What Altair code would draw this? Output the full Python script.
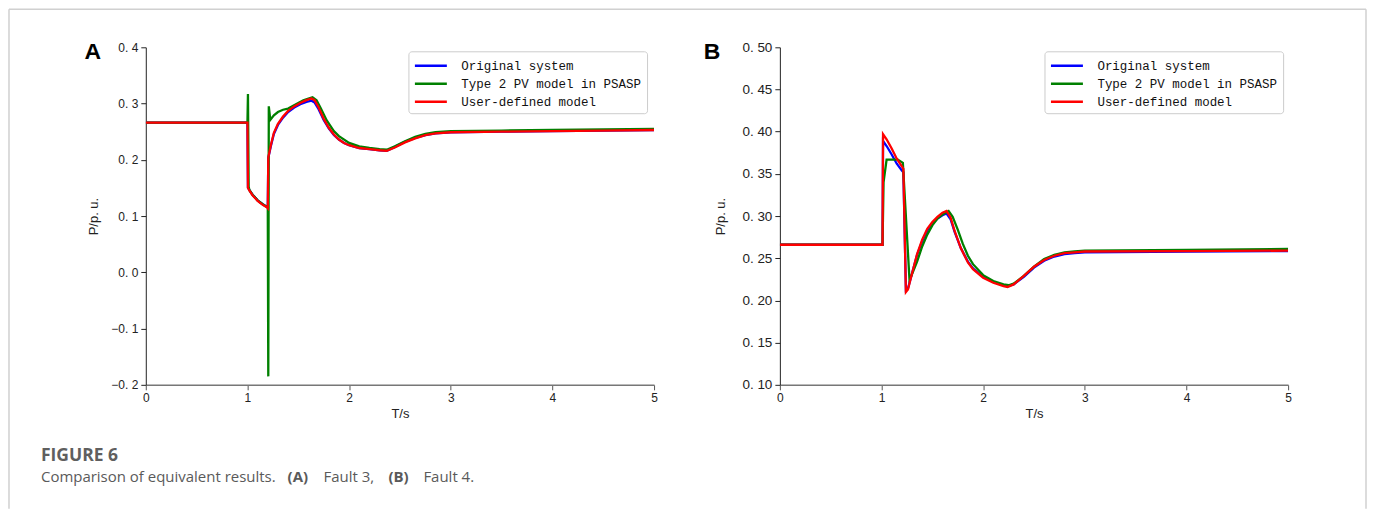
import altair as alt
import pandas as pd

SERIES = ["Original system", "Type 2 PV model in PSASP", "User-defined model"]
COLORS = ["#0000ff", "#008000", "#ff0000"]

# ---------- Panel A (Fault 3) ----------
a_orig_t = [0, 1.0, 1.005, 1.02, 1.05, 1.1, 1.15, 1.195, 1.2, 1.205, 1.23, 1.26, 1.3, 1.35, 1.4, 1.46, 1.52, 1.58, 1.63, 1.66,
            1.7, 1.75, 1.8, 1.85, 1.9, 1.95, 2.0, 2.1, 2.2, 2.3, 2.37, 2.45, 2.55, 2.65, 2.75, 2.85, 3.0, 3.5, 4.0, 4.5, 5.0]
a_orig_p = [0.266, 0.266, 0.151, 0.146, 0.138, 0.128, 0.121, 0.116, 0.115, 0.203, 0.224, 0.246, 0.262, 0.275, 0.285, 0.293, 0.299, 0.303, 0.305, 0.302,
            0.290, 0.271, 0.256, 0.244, 0.236, 0.230, 0.226, 0.221, 0.219, 0.217, 0.216, 0.223, 0.232, 0.239, 0.244, 0.247, 0.249, 0.250, 0.251, 0.252, 0.253]

a_psasp_t = [0, 1.0, 1.005, 1.012, 1.02, 1.05, 1.1, 1.15, 1.195, 1.2, 1.205, 1.21, 1.225, 1.26, 1.3, 1.35, 1.4, 1.45, 1.5, 1.55,
             1.6, 1.64, 1.68, 1.72, 1.78, 1.85, 1.9, 2.0, 2.1, 2.2, 2.3, 2.37, 2.45, 2.55, 2.65, 2.75, 2.85, 3.0, 3.5, 4.0, 4.5, 5.0]
a_psasp_p = [0.266, 0.266, 0.317, 0.152, 0.146, 0.138, 0.128, 0.121, 0.116, 0.115, -0.185, 0.295, 0.271, 0.279, 0.285, 0.289, 0.291, 0.296, 0.301, 0.306,
             0.309, 0.311, 0.306, 0.292, 0.270, 0.251, 0.242, 0.230, 0.224, 0.221, 0.219, 0.218, 0.224, 0.233, 0.241, 0.246, 0.249, 0.251, 0.252, 0.253, 0.254, 0.255]

a_user_t = a_orig_t
a_user_p = [0.266, 0.266, 0.150, 0.145, 0.137, 0.127, 0.120, 0.115, 0.114, 0.204, 0.226, 0.248, 0.264, 0.277, 0.287, 0.295, 0.301, 0.306, 0.309, 0.306,
            0.293, 0.273, 0.257, 0.245, 0.236, 0.230, 0.226, 0.221, 0.219, 0.217, 0.216, 0.222, 0.231, 0.238, 0.244, 0.247, 0.249, 0.250, 0.251, 0.252, 0.253]

# ---------- Panel B (Fault 4) ----------
b_user_t = [0, 1.01, 1.015, 1.05, 1.1, 1.15, 1.2, 1.215, 1.24, 1.26, 1.3, 1.35, 1.4, 1.45, 1.5, 1.55, 1.6, 1.64, 1.68, 1.72,
            1.78, 1.85, 1.9, 2.0, 2.1, 2.2, 2.24, 2.3, 2.4, 2.5, 2.6, 2.7, 2.8, 2.9, 3.0, 4.0, 5.0]
b_user_p = [0.266, 0.266, 0.397, 0.391, 0.380, 0.368, 0.359, 0.356, 0.210, 0.213, 0.232, 0.255, 0.272, 0.285, 0.293, 0.299, 0.304, 0.306, 0.298, 0.282,
            0.262, 0.245, 0.237, 0.227, 0.221, 0.217, 0.216, 0.219, 0.229, 0.240, 0.248, 0.253, 0.256, 0.257, 0.258, 0.2585, 0.259]

b_orig_t = b_user_t
b_orig_p = [0.266, 0.266, 0.389, 0.383, 0.373, 0.362, 0.354, 0.352, 0.212, 0.214, 0.232, 0.254, 0.270, 0.283, 0.291, 0.297, 0.301, 0.303, 0.296, 0.281,
            0.262, 0.246, 0.238, 0.228, 0.222, 0.218, 0.217, 0.219, 0.228, 0.239, 0.247, 0.252, 0.255, 0.256, 0.257, 0.258, 0.2585]

b_psasp_t = [0, 1.01, 1.02, 1.05, 1.16, 1.21, 1.275, 1.29, 1.35, 1.4, 1.45, 1.5, 1.55, 1.6, 1.66, 1.7, 1.75, 1.8, 1.85, 1.9,
             2.0, 2.1, 2.2, 2.25, 2.3, 2.4, 2.5, 2.6, 2.7, 2.8, 2.9, 3.0, 4.0, 5.0]
b_psasp_p = [0.266, 0.266, 0.340, 0.367, 0.367, 0.363, 0.225, 0.228, 0.246, 0.264, 0.278, 0.289, 0.297, 0.302, 0.306, 0.299, 0.284, 0.267, 0.253, 0.243,
             0.230, 0.223, 0.219, 0.218, 0.220, 0.229, 0.240, 0.249, 0.254, 0.257, 0.258, 0.259, 0.260, 0.261]

A_YTICKS = [-0.2, -0.1, 0.0, 0.1, 0.2, 0.3, 0.4]
B_YTICKS = [0.10, 0.15, 0.20, 0.25, 0.30, 0.35, 0.40, 0.45, 0.50]
X_TICKS = [0, 1, 2, 3, 4, 5]

TICK_FONT = "Liberation Sans"
LEG_FONT = "Liberation Mono"
CAP_FONT = "Open Sans"


def make_df(parts):
    rows = []
    for name, ts, ps in parts:
        assert len(ts) == len(ps), name
        for i, (t, p) in enumerate(zip(ts, ps)):
            rows.append({"t": t, "p": p, "series": name, "i": i})
    return pd.DataFrame(rows)


df_a = make_df([(SERIES[0], a_orig_t, a_orig_p), (SERIES[1], a_psasp_t, a_psasp_p), (SERIES[2], a_user_t, a_user_p)])
df_b = make_df([(SERIES[0], b_orig_t, b_orig_p), (SERIES[1], b_psasp_t, b_psasp_p), (SERIES[2], b_user_t, b_user_p)])

W, H = 509, 338
ONE = alt.Data(values=[{"k": 0}])


def lines(df, ydom, yticks, fmt, label_size, legend_x, title_pad):
    xaxis = alt.Axis(values=X_TICKS, format="d", title="T/s", grid=False, labelFlush=False,
                     domainColor="#777777", domainWidth=1.5, tickColor="#555555", tickSize=5,
                     labelFont=TICK_FONT, labelFontSize=12, labelColor="#222222", labelPadding=3,
                     titleFont=TICK_FONT, titleFontSize=13, titleFontWeight="normal", titleColor="#222222",
                     titlePadding=4)
    yaxis = alt.Axis(values=yticks, grid=False, title="P/p. u.",
                     labelExpr="replace(format(datum.value, '" + fmt + "'), '.', '. ')",
                     domainColor="#222222", tickColor="#222222", tickSize=5,
                     labelFont=TICK_FONT, labelFontSize=label_size, labelColor="#222222", labelPadding=3,
                     titleFont=TICK_FONT, titleFontSize=13, titleFontWeight="normal", titleColor="#222222",
                     titlePadding=title_pad)
    legend = alt.Legend(title=None, orient="none", legendX=legend_x, legendY=4,
                        symbolType="M-2,0H2", symbolSize=256, symbolStrokeWidth=2.4, symbolOffset=8,
                        labelFont=LEG_FONT, labelFontSize=12.5, labelColor="#111111", labelOffset=21,
                        labelLimit=400, padding=5, rowPadding=2,
                        strokeColor="#cccccc", fillColor="#ffffff", cornerRadius=3)
    return alt.Chart(df).mark_line(strokeWidth=2.3, clip=True).encode(
        x=alt.X("t:Q", scale=alt.Scale(domain=[0, 5], nice=False, zero=False), axis=xaxis),
        y=alt.Y("p:Q", scale=alt.Scale(domain=ydom, nice=False, zero=False), axis=yaxis),
        color=alt.Color("series:N", scale=alt.Scale(domain=SERIES, range=COLORS), legend=legend),
        order=alt.Order("i:Q"),
    )


def text(s, x, y, size, weight="normal", font=TICK_FONT, color="#000000", align="left"):
    return alt.Chart(ONE).mark_text(text=s, font=font, fontSize=size, fontWeight=weight, color=color,
                                    align=align, baseline="middle").encode(x=alt.value(x), y=alt.value(y))


def rule(x, y, x2=None, y2=None):
    enc = {"x": alt.value(x), "y": alt.value(y)}
    if x2 is not None:
        enc["x2"] = alt.value(x2)
    if y2 is not None:
        enc["y2"] = alt.value(y2)
    return alt.Chart(ONE).mark_rule(color="#d0d0d0", strokeWidth=1.5).encode(**enc)


FRAME_TOP = -38
FRAME_BOTTOM = 462
CAP_C = "#5a5a5a"

panel_a = alt.layer(
    lines(df_a, [-0.2, 0.4], A_YTICKS, ".1f", 12, 263, 10),
    text("A", -53, 5, 23, "bold", "Liberation Sans", align="center"),
    rule(-137, FRAME_TOP, x2=1222),
    rule(-137, FRAME_TOP, y2=FRAME_BOTTOM),
    text("FIGURE 6", -105, 409, 17.5, "bold", CAP_FONT, "#5f5f5f"),
    text("Comparison of equivalent results.", -105, 430, 15, "normal", CAP_FONT, CAP_C),
    text("(A)", 142, 430, 15, "bold", CAP_FONT, CAP_C),
    text("Fault 3,", 178, 430, 15, "normal", CAP_FONT, CAP_C),
    text("(B)", 243, 430, 15, "bold", CAP_FONT, CAP_C),
    text("Fault 4.", 278, 430, 15, "normal", CAP_FONT, CAP_C),
).properties(width=W, height=H)

panel_b = alt.layer(
    lines(df_b, [0.10, 0.50], B_YTICKS, ".2f", 13.5, 265, 14),
    text("B", -68, 5, 23, "bold", "Liberation Sans", align="center"),
    rule(587, FRAME_TOP, y2=FRAME_BOTTOM),
).properties(width=W, height=H)

chart = alt.hconcat(panel_a, panel_b, spacing=126, bounds="flush", padding=0).resolve_scale(
    color="independent").resolve_legend(color="independent").configure_view(stroke=None)

chart.save("out.html", embed_options={"renderer": "svg", "actions": False})
